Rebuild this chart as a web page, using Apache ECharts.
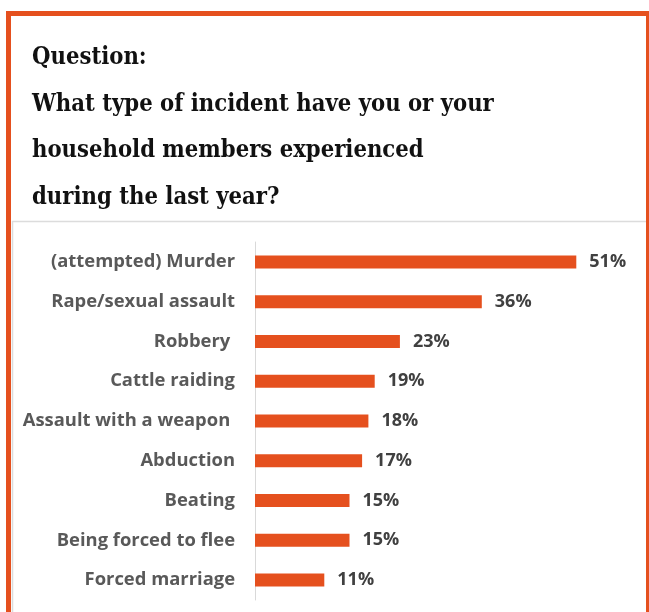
<!DOCTYPE html>
<html>
<head>
<meta charset="utf-8">
<style>
  html, body { margin: 0; padding: 0; background: #fff; }
  #chart { width: 649px; height: 612px; }
</style>
<script src="https://cdn.jsdelivr.net/npm/echarts@6/dist/echarts.min.js"></script>
</head>
<body>
<div id="chart"></div>
<script>
// Incident types, top to bottom
const categories = [
  '(attempted) Murder',
  'Rape/sexual assault',
  'Robbery ',
  'Cattle raiding',
  'Assault with a weapon ',
  'Abduction',
  'Beating',
  'Being forced to flee',
  'Forced marriage'
];
// Share of respondents (%)
const shares = [51, 36, 23, 19, 18, 17, 15, 15, 11];

const titleLines = [
  'Question:',
  'What type of incident have you or your',
  'household members experienced',
  'during the last year?'
];

const ORANGE = '#E5501E';

const chart = echarts.init(document.getElementById('chart'), null, { renderer: 'canvas' });

chart.setOption({
  animation: false,
  backgroundColor: '#ffffff',
  title: {
    text: titleLines.join('\n'),
    left: 32,
    top: 35,
    padding: 0,
    textStyle: {
      fontFamily: '"DejaVu Serif Condensed", "DejaVu Serif", serif',
      fontWeight: 'bold',
      fontSize: 23.6,
      lineHeight: 46.5,
      color: '#111111'
    }
  },
  graphic: [
    {
      type: 'rect',
      silent: true,
      z: -1,
      shape: { x: 12.5, y: 221.5, width: 640, height: 500 },
      style: { fill: 'none', stroke: '#dcdcdc', lineWidth: 1.5 }
    },
    {
      type: 'rect',
      silent: true,
      z: 100,
      shape: { x: 8.5, y: 13.5, width: 640, height: 700 },
      style: { fill: 'none', stroke: ORANGE, lineWidth: 5 }
    }
  ],
  grid: { left: 255, top: 242, width: 378, height: 358, containLabel: false },
  xAxis: {
    type: 'value',
    min: 0,
    max: 60,
    show: false
  },
  yAxis: {
    type: 'category',
    data: categories,
    inverse: true,
    axisTick: { show: false },
    axisLine: { show: true, lineStyle: { color: '#d9d9d9', width: 1 } },
    axisLabel: {
      margin: 20,
      color: '#595959',
      fontFamily: '"Open Sans", "Noto Sans", sans-serif',
      fontWeight: 'bold',
      fontSize: 18.4
    }
  },
  series: [{
    type: 'bar',
    data: shares,
    barWidth: 13,
    itemStyle: { color: ORANGE },
    label: {
      show: true,
      position: 'right',
      distance: 13,
      formatter: p => p.value + '%',
      color: '#404040',
      fontFamily: '"Open Sans", "Noto Sans", sans-serif',
      fontWeight: 'bold',
      fontSize: 18
    }
  }]
});
</script>
</body>
</html>
